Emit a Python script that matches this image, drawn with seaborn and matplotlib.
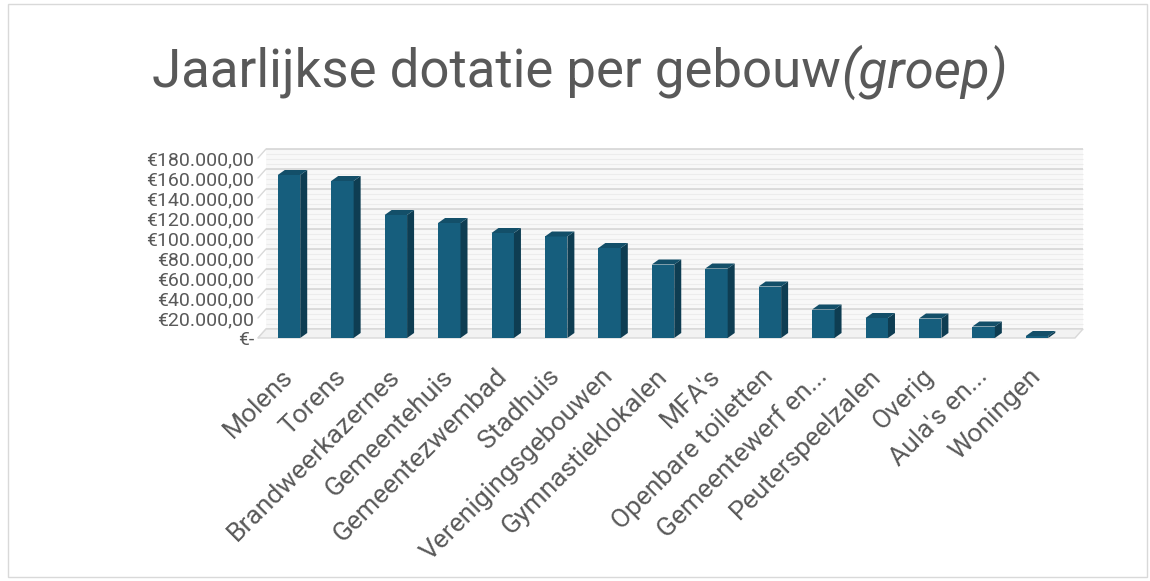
import matplotlib
matplotlib.use("Agg")
import matplotlib.pyplot as plt
import seaborn as sns
import numpy as np
from matplotlib.patches import Polygon, Rectangle
from matplotlib.transforms import ScaledTranslation

categories = ["Molens", "Torens", "Brandweerkazernes", "Gemeentehuis", "Gemeentezwembad",
              "Stadhuis", "Verenigingsgebouwen", "Gymnastieklokalen", "MFA's",
              "Openbare toiletten", "Gemeentewerf en...", "Peuterspeelzalen", "Overig",
              "Aula's en...", "Woningen"]
values = [163000, 157000, 123000, 115000, 105000, 101500, 90000, 73500, 69500,
          51500, 28500, 20000, 19500, 11500, 2000]
yticks = [0, 20000, 40000, 60000, 80000, 100000, 120000, 140000, 160000, 180000]

def euro(v):
    if v == 0:
        return "€-"
    return "€" + f"{v:,.2f}".replace(",", "X").replace(".", ",").replace("X", ".")

sns.set_theme(style="white")
plt.rcParams["font.family"] = ["Roboto", "DejaVu Sans"]

GREY = "#595959"
FRONT = "#165E7D"
SIDE = "#0E3D52"
TOP = "#134F69"

fig = plt.figure(figsize=(11.5, 5.81), dpi=100)
fig.patch.set_facecolor("white")
W, H = 1150, 581
ax = fig.add_axes([258 / W, (H - 338) / H, 817 / W, 190 / H])
ax.set_facecolor("none")

sns.barplot(x=categories, y=values, color=FRONT, saturation=1, width=0.42, ax=ax, zorder=3)
ax.set_xlim(-0.58, len(categories) - 0.29)
ax.set_ylim(0, 190000)

# depth of 3D effect in data units, derived from pixel offsets
DX_PX, DY_PX = 7, 5
inv = ax.transData.inverted()
o = inv.transform((0, 0))
d = inv.transform((DX_PX, DY_PX))
dxd, dyd = d[0] - o[0], d[1] - o[1]

# back wall offset
BX_PX, BY_PX = 8, 9
wall = ax.transData + ScaledTranslation(BX_PX / 100, BY_PX / 100, fig.dpi_scale_trans)
x0, x1 = ax.get_xlim()
wd = inv.transform((BX_PX, BY_PX))
wdx, wdy = wd[0] - o[0], wd[1] - o[1]

# back wall
ax.add_patch(Rectangle((x0, 0), x1 - x0, 180000, transform=wall, facecolor="#f8f8f8",
                       edgecolor="none", zorder=0, clip_on=False))
minor = np.arange(0, 180001, 5000)
ax.hlines(minor, x0, x1, transform=wall, colors="#ececec", lw=0.8, zorder=0.5, clip_on=False)
ax.hlines(yticks, x0, x1, transform=wall, colors="#d9d9d9", lw=1.3, zorder=1, clip_on=False)
# left wall
for yv in yticks:
    ax.plot([x0, x0 + wdx], [yv, yv + wdy], color="#d9d9d9", lw=1.0, zorder=1, clip_on=False)
# floor
ax.add_patch(Polygon([(x0, 0), (x1, 0), (x1 + wdx, wdy), (x0 + wdx, wdy)], closed=True,
                     facecolor="#f2f2f2", edgecolor="#d9d9d9", lw=1.0, zorder=1.5, clip_on=False))

for p in ax.patches[:]:
    if isinstance(p, Polygon) or not isinstance(p, Rectangle):
        continue
    if tuple(p.get_facecolor()[:3]) != matplotlib.colors.to_rgb(FRONT):
        continue
    bx, bw, bh = p.get_x(), p.get_width(), p.get_height()
    p.set_edgecolor("none")
    side = Polygon([(bx + bw, 0), (bx + bw + dxd, dyd), (bx + bw + dxd, bh + dyd), (bx + bw, bh)],
                   closed=True, facecolor=SIDE, edgecolor="none", zorder=3)
    top = Polygon([(bx, bh), (bx + bw, bh), (bx + bw + dxd, bh + dyd), (bx + dxd, bh + dyd)],
                  closed=True, facecolor=TOP, edgecolor="none", zorder=3)
    ax.add_patch(side)
    ax.add_patch(top)

ax.set_yticks(yticks)
ax.set_yticklabels([euro(v) for v in yticks], color=GREY, fontsize=14)
ax.tick_params(axis="y", length=0, pad=3)
ax.set_xticks(range(len(categories)))
ax.set_xticklabels(categories, rotation=45, ha="right", va="center", rotation_mode="anchor",
                   color=GREY, fontsize=19)
ax.tick_params(axis="x", length=0, pad=25)
ax.set_xlabel("")
ax.set_ylabel("")
for s in ax.spines.values():
    s.set_visible(False)
ax.grid(False)

# title with italic part
t1 = fig.text(152 / W, 1 - 72 / H, "Jaarlijkse dotatie per gebouw", fontsize=38, color=GREY,
              ha="left", va="center")
fig.canvas.draw()
bb = t1.get_window_extent(fig.canvas.get_renderer())
fig.text(bb.x1 / W, 1 - 72 / H, "(groep)", fontsize=38, color=GREY, style="italic",
         ha="left", va="center")

# chart border
fig.add_artist(Rectangle((8 / W, 4 / H), (1147 - 8) / W, (577 - 4) / H, transform=fig.transFigure,
                         fill=False, edgecolor="#d9d9d9", lw=1.0))

fig.savefig("out.png", dpi=100, facecolor="white")
